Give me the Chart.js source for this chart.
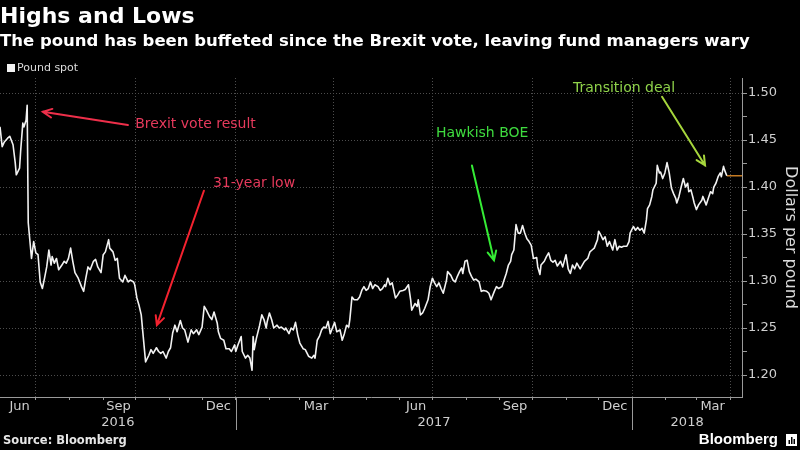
<!DOCTYPE html>
<html>
<head>
<meta charset="utf-8">
<script src="https://cdn.jsdelivr.net/npm/chart.js@4.4.1/dist/chart.umd.min.js"></script>
<style>
  html, body { margin: 0; padding: 0; background: #000; }
  #wrap { width: 800px; height: 450px; }
</style>
</head>
<body>
<div id="wrap"><canvas id="myChart"></canvas></div>
<script>
// Pound spot (USD per GBP). x = days since 1 Jul 2016
const dayOffsets = [
  -33, -31, -29, -26, -24, -21, -19, -18, -15, -14,
  -12, -11, -9, -8, -7, -4, -2, 0, 2, 4,
  6, 8, 10, 12, 14, 15, 17, 19, 21, 24,
  26, 28, 30, 32, 34, 36, 39, 42, 44, 46,
  48, 50, 53, 55, 57, 60, 62, 64, 67, 68,
  71, 73, 75, 77, 80, 82, 85, 87, 90, 91,
  93, 95, 97, 99, 101, 104, 106, 108, 111, 113,
  115, 117, 120, 122, 124, 126, 128, 130, 133, 135,
  137, 140, 143, 145, 148, 150, 153, 155, 157, 160,
  162, 164, 167, 168, 170, 173, 175, 178, 180, 183,
  184, 186, 189, 190, 193, 195, 197, 199, 200, 201,
  203, 206, 208, 210, 212, 213, 215, 217, 219, 222,
  224, 226, 229, 230, 233, 235, 237, 239, 241, 243,
  246, 248, 251, 254, 256, 257, 259, 261, 263, 265,
  267, 269, 271, 273, 275, 277, 280, 282, 284, 286,
  288, 289, 291, 293, 296, 298, 300, 302, 304, 306,
  308, 310, 312, 315, 317, 319, 321, 322, 324, 326,
  328, 331, 333, 335, 338, 340, 343, 345, 346, 349,
  351, 352, 354, 356, 358, 361, 363, 365, 367, 369,
  371, 373, 375, 378, 379, 382, 384, 386, 388, 390,
  392, 393, 395, 397, 399, 401, 403, 405, 408, 410,
  412, 415, 417, 419, 422, 424, 426, 429, 431, 433,
  435, 437, 438, 440, 442, 444, 446, 448, 450, 452,
  454, 456, 458, 461, 462, 464, 465, 468, 470, 472,
  474, 476, 478, 480, 483, 485, 488, 490, 492, 494,
  496, 498, 501, 503, 505, 508, 510, 512, 514, 517,
  518, 520, 522, 524, 526, 528, 531, 533, 535, 537,
  539, 541, 544, 546, 547, 550, 552, 554, 556, 558,
  560, 562, 563, 565, 567, 568, 571, 572, 574, 575,
  577, 579, 581, 583, 585, 587, 589, 590, 592, 594,
  596, 598, 600, 601, 603, 605, 606, 608, 610, 613,
  614, 617, 619, 621, 623, 624, 626, 628, 630, 631,
  633, 634, 636
];
const poundSpot = [
  1.464, 1.443, 1.448, 1.452, 1.454, 1.445, 1.426, 1.413, 1.420, 1.438,
  1.468, 1.464, 1.471, 1.487, 1.362, 1.324, 1.342, 1.330, 1.328, 1.299,
  1.292, 1.303, 1.315, 1.333, 1.317, 1.326, 1.319, 1.324, 1.312, 1.317,
  1.321, 1.319, 1.324, 1.335, 1.321, 1.309, 1.303, 1.294, 1.289, 1.303,
  1.315, 1.312, 1.321, 1.323, 1.315, 1.309, 1.328, 1.331, 1.344, 1.335,
  1.331, 1.322, 1.324, 1.303, 1.299, 1.306, 1.299, 1.301, 1.299, 1.296,
  1.282, 1.274, 1.264, 1.239, 1.214, 1.221, 1.227, 1.223, 1.229, 1.225,
  1.223, 1.225, 1.218, 1.225, 1.229, 1.245, 1.253, 1.246, 1.258, 1.250,
  1.248, 1.235, 1.248, 1.244, 1.248, 1.243, 1.251, 1.273, 1.269, 1.262,
  1.259, 1.267, 1.255, 1.246, 1.239, 1.237, 1.228, 1.228, 1.225, 1.232,
  1.225, 1.232, 1.241, 1.225, 1.218, 1.221, 1.218, 1.205, 1.241, 1.227,
  1.239, 1.253, 1.264, 1.259, 1.250, 1.257, 1.266, 1.259, 1.250, 1.253,
  1.250, 1.251, 1.248, 1.250, 1.244, 1.250, 1.248, 1.256, 1.243, 1.234,
  1.228, 1.227, 1.220, 1.218, 1.221, 1.218, 1.237, 1.241, 1.248, 1.251,
  1.250, 1.257, 1.244, 1.250, 1.256, 1.246, 1.248, 1.237, 1.244, 1.253,
  1.251, 1.259, 1.283, 1.280, 1.280, 1.283, 1.290, 1.294, 1.290, 1.292,
  1.299, 1.292, 1.296, 1.294, 1.290, 1.292, 1.296, 1.294, 1.303, 1.296,
  1.298, 1.282, 1.285, 1.289, 1.290, 1.291, 1.296, 1.280, 1.269, 1.276,
  1.273, 1.280, 1.264, 1.266, 1.271, 1.280, 1.294, 1.303, 1.298, 1.294,
  1.298, 1.292, 1.287, 1.301, 1.310, 1.306, 1.301, 1.299, 1.305, 1.310,
  1.314, 1.308, 1.321, 1.322, 1.310, 1.305, 1.301, 1.302, 1.299, 1.289,
  1.290, 1.289, 1.287, 1.280, 1.289, 1.294, 1.292, 1.294, 1.301, 1.308,
  1.317, 1.321, 1.328, 1.333, 1.360, 1.351, 1.351, 1.359, 1.351, 1.345,
  1.342, 1.338, 1.324, 1.325, 1.315, 1.307, 1.317, 1.321, 1.326, 1.330,
  1.322, 1.320, 1.322, 1.316, 1.321, 1.315, 1.328, 1.313, 1.308, 1.317,
  1.313, 1.319, 1.313, 1.317, 1.321, 1.324, 1.331, 1.333, 1.335, 1.344,
  1.353, 1.349, 1.344, 1.347, 1.337, 1.342, 1.333, 1.344, 1.333, 1.337,
  1.336, 1.337, 1.337, 1.342, 1.351, 1.358, 1.354, 1.357, 1.354, 1.356,
  1.351, 1.365, 1.377, 1.381, 1.390, 1.397, 1.404, 1.423, 1.415, 1.416,
  1.409, 1.415, 1.426, 1.415, 1.399, 1.393, 1.388, 1.383, 1.390, 1.400,
  1.409, 1.400, 1.404, 1.395, 1.397, 1.388, 1.383, 1.376, 1.381, 1.386,
  1.390, 1.381, 1.388, 1.395, 1.393, 1.400, 1.404, 1.411, 1.415, 1.411,
  1.422, 1.418, 1.412
];

// axis ranges and ticks (days since 1 Jul 2016)
const xMin = -33, xMax = 650;
const yMin = 1.1766, yMax = 1.516;
const yMajorTicks = [1.20, 1.25, 1.30, 1.35, 1.40, 1.45, 1.50];
const monthStarts = [0, 31, 62, 92, 123, 153, 184, 215, 243, 274, 304, 335,
                     365, 396, 427, 457, 488, 518, 549, 580, 608, 639];
const quarterStarts = [0, 92, 184, 274, 365, 457, 549, 639];
const monthLabelDays = [-15, 76, 168, 258, 350, 441, 533, 623];
const monthLabels = ['Jun', 'Sep', 'Dec', 'Mar', 'Jun', 'Sep', 'Dec', 'Mar'];
const yearStarts = [184, 549];
const yearLabels = ['2016', '2017', '2018'];

// callouts, anchored in data coordinates [day, value]
const notes = [
  { text: 'Brexit vote result', color: '#e63a5c', arrow: '#ee2f4a', at: [91.5, 1.467], from: [84.7, 1.466], to: [6.4, 1.480] },
  { text: '31-year low', color: '#e63a5c', arrow: '#f4222f', at: [163, 1.404], from: [154.7, 1.396], to: [111.4, 1.253] },
  { text: 'Hawkish BOE', color: '#3fdc3f', arrow: '#35ec35', at: [368.3, 1.457], from: [401.4, 1.423], to: [421.7, 1.322] },
  { text: 'Transition deal', color: '#8fd24a', arrow: '#a6d63c', at: [494.4, 1.505], from: [576.4, 1.496], to: [616, 1.423] },
];

const lastDay = dayOffsets[dayOffsets.length - 1];
const lastValue = poundSpot[poundSpot.length - 1];

const font = 'DejaVu Sans';
Chart.defaults.font.family = font;
Chart.defaults.color = '#cfcfcf';

const gridColor = '#4d4d4d';
const axisColor = '#9a9a9a';

function drawArrow(ctx, x1, y1, x2, y2, color) {
  const ang = Math.atan2(y2 - y1, x2 - x1);
  const head = 10;
  ctx.strokeStyle = color;
  ctx.lineWidth = 2;
  ctx.lineCap = 'round';
  ctx.beginPath();
  ctx.moveTo(x1, y1);
  ctx.lineTo(x2, y2);
  ctx.moveTo(x2 - head * Math.cos(ang - 0.45), y2 - head * Math.sin(ang - 0.45));
  ctx.lineTo(x2, y2);
  ctx.lineTo(x2 - head * Math.cos(ang + 0.45), y2 - head * Math.sin(ang + 0.45));
  ctx.stroke();
}

const overlay = {
  id: 'overlay',
  afterDraw(chart) {
    const { ctx, scales: { x, y } } = chart;
    ctx.save();

    // year separators below the axis
    ctx.strokeStyle = axisColor;
    ctx.lineWidth = 1;
    yearStarts.forEach(d => {
      const px = Math.round(x.getPixelForValue(d)) + 0.5;
      ctx.beginPath();
      ctx.moveTo(px, x.top);
      ctx.lineTo(px, x.top + 33);
      ctx.stroke();
    });

    // callouts
    notes.forEach(n => {
      drawArrow(ctx, x.getPixelForValue(n.from[0]), y.getPixelForValue(n.from[1]),
        x.getPixelForValue(n.to[0]), y.getPixelForValue(n.to[1]), n.arrow);
      ctx.fillStyle = n.color;
      ctx.font = '14px "' + font + '"';
      ctx.textAlign = 'left';
      ctx.textBaseline = 'middle';
      ctx.fillText(n.text, x.getPixelForValue(n.at[0]), y.getPixelForValue(n.at[1]));
    });

    // legend
    const ds = chart.data.datasets[0];
    ctx.fillStyle = ds.borderColor;
    ctx.fillRect(7, 64, 8, 8);
    ctx.fillStyle = '#dcdcdc';
    ctx.font = '11px "' + font + '"';
    ctx.textBaseline = 'middle';
    ctx.fillText(ds.label, 17, 68.5);

    // footer
    ctx.fillStyle = '#e6e6e6';
    ctx.font = 'bold 11.5px "' + font + '"';
    ctx.fillText('Source: Bloomberg', 3, 441);
    ctx.fillStyle = '#ffffff';
    ctx.font = 'bold 15px "Liberation Sans"';
    ctx.textAlign = 'right';
    ctx.fillText('Bloomberg', 778, 440);
    ctx.fillRect(786, 434, 11, 12);
    ctx.fillStyle = '#000';
    [[788.5, 440, 1.5, 4], [791, 437, 1.5, 7], [793.5, 439, 1.5, 5]].forEach(r => ctx.fillRect(r[0], r[1], r[2], r[3]));

    ctx.restore();
  }
};

const points = dayOffsets.map((d, i) => ({ x: d, y: poundSpot[i] }));

new Chart(document.getElementById('myChart'), {
  type: 'line',
  data: {
    datasets: [
      {
        label: 'Pound spot',
        data: points,
        borderColor: '#f2f2f2',
        borderWidth: 1.6,
        borderJoinStyle: 'round',
        pointRadius: 0,
        tension: 0,
      },
      {
        label: 'Last price',
        data: [{ x: lastDay, y: lastValue }, { x: xMax, y: lastValue }],
        borderColor: '#c57a22',
        borderWidth: 1.5,
        pointRadius: 0,
      },
    ],
  },
  options: {
    responsive: true,
    maintainAspectRatio: false,
    animation: false,
    layout: { padding: { left: 0, right: 0, top: 0, bottom: 16 } },
    plugins: {
      legend: { display: false },
      tooltip: { enabled: false },
      title: {
        display: true,
        text: 'Highs and Lows',
        align: 'start',
        color: '#ffffff',
        font: { size: 22, weight: 'bold' },
        padding: { top: 4, bottom: 0 },
      },
      subtitle: {
        display: true,
        text: 'The pound has been buffeted since the Brexit vote, leaving fund managers wary',
        align: 'start',
        color: '#ffffff',
        font: { size: 16.5, weight: 'bold' },
        padding: { top: 1, bottom: 26.8 },
      },
    },
    scales: {
      x: {
        type: 'linear',
        position: 'bottom',
        weight: 1,
        min: xMin,
        max: xMax,
        afterBuildTicks: scale => {
          scale.ticks = monthStarts.concat(monthLabelDays).map(v => ({ value: v }));
        },
        afterFit: scale => { scale.height = 17; },
        ticks: {
          autoSkip: false,
          maxRotation: 0,
          padding: 0,
          font: { size: 13, lineHeight: 1 },
          color: '#cfcfcf',
          callback: value => {
            const i = monthLabelDays.indexOf(value);
            return i >= 0 ? monthLabels[i] : '';
          },
        },
        grid: {
          color: c => (c.tick && quarterStarts.includes(c.tick.value)) ? gridColor : 'rgba(0,0,0,0)',
          tickColor: c => (c.tick && monthStarts.includes(c.tick.value)) ? axisColor : 'rgba(0,0,0,0)',
          tickLength: 3,
          lineWidth: 1,
        },
        border: { display: true, color: axisColor, width: 1, dash: [1, 2] },
      },
      xYear: {
        type: 'linear',
        position: 'bottom',
        weight: 2,
        min: xMin,
        max: xMax,
        afterBuildTicks: scale => {
          const edges = [xMin].concat(yearStarts, [xMax]);
          scale.ticks = yearLabels.map((_, i) => ({ value: (edges[i] + edges[i + 1]) / 2 }));
        },
        afterFit: scale => { scale.height = 20; },
        ticks: {
          autoSkip: false,
          maxRotation: 0,
          padding: 2,
          font: { size: 13, lineHeight: 1 },
          color: '#cfcfcf',
          callback: (value, index) => yearLabels[index],
        },
        grid: { display: false, drawTicks: false },
        border: { display: false },
      },
      y: {
        type: 'linear',
        position: 'right',
        min: yMin,
        max: yMax,
        afterBuildTicks: scale => {
          const all = [];
          yMajorTicks.forEach((v, i) => {
            all.push(v);
            if (i < yMajorTicks.length - 1) all.push((v + yMajorTicks[i + 1]) / 2);
          });
          scale.ticks = all.map(v => ({ value: v }));
        },
        afterFit: scale => { scale.width = 58; },
        ticks: {
          autoSkip: false,
          padding: 1,
          font: { size: 13 },
          color: '#cfcfcf',
          callback: value => yMajorTicks.some(t => Math.abs(t - value) < 1e-6) ? value.toFixed(2) : '',
        },
        grid: {
          color: c => (c.tick && yMajorTicks.some(t => Math.abs(t - c.tick.value) < 1e-6)) ? gridColor : 'rgba(0,0,0,0)',
          tickColor: axisColor,
          tickLength: 5,
          lineWidth: 1,
        },
        border: { display: true, color: axisColor, width: 1, dash: [1, 2] },
        title: {
          display: true,
          text: 'Dollars per pound',
          color: '#dcdcdc',
          font: { size: 16 },
          padding: 0,
        },
      },
    },
  },
  plugins: [overlay],
});
</script>
</body>
</html>
